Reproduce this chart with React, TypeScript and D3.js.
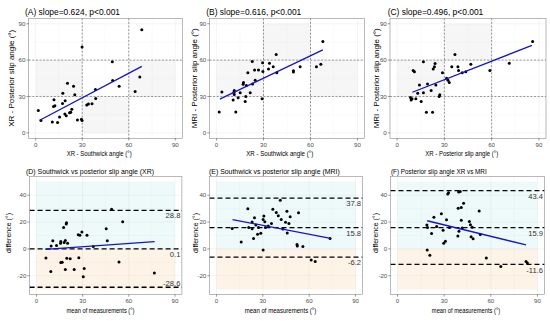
import React from 'react';
import * as d3 from 'd3';

type Pt = [number, number];

// ---------- top row: method comparison scatter plots ----------
const gradeBreaks = [0, 30, 60, 90];
const axisTicks = [0, 30, 60, 90];
const minorTicks = [15, 45, 75];

const scatterTitles = ['(A) slope=0.624, p<0.001', '(B) slope=0.616, p<0.001', '(C) slope=0.496, p<0.001'];
const scatterXLabels = ['XR - Southwick angle (°)', 'XR - Southwick angle (°)', 'XR - Posterior slip angle (°)'];
const scatterYLabels = ['XR - Posterior slip angle (°)', 'MRI - Posterior slip angle (°)', 'MRI - Posterior slip angle (°)'];

const pointsA: Pt[] = [
  [1.7, 18.5], [3.4, 10.1], [10.7, 9.0], [11.5, 21.8], [12.4, 22.4], [11.8, 27.3], [14.1, 8.5],
  [15.4, 13.1], [17.3, 24.3], [17.5, 32.7], [19.0, 26.5], [20.5, 40.9], [18.8, 15.5], [19.7, 14.2],
  [21.8, 16.6], [22.6, 16.9], [23.3, 19.4], [24.4, 38.5], [25.2, 31.4], [26.9, 10.6], [29.5, 11.2],
  [29.9, 10.1], [29.9, 70.9], [32.9, 22.9], [34.0, 23.7], [36.3, 24.0], [38.5, 35.7], [38.7, 28.4],
  [49.4, 58.6], [49.6, 43.1], [53.8, 38.5], [64.1, 34.1], [67.1, 46.1], [68.4, 85.1],
];
const pointsB: Pt[] = [
  [1.7, 17.2], [3.4, 33.8], [10.6, 27.0], [11.1, 33.5], [11.3, 34.9], [11.3, 31.6], [12.3, 17.2],
  [13.8, 28.9], [15.1, 33.0], [17.0, 40.1], [17.2, 41.5], [18.3, 25.9], [18.7, 30.0], [19.1, 39.0],
  [20.0, 49.6], [21.5, 33.0], [22.8, 58.9], [23.0, 40.4], [24.3, 51.8], [24.7, 43.4], [26.8, 51.8],
  [29.1, 28.1], [29.4, 57.8], [29.6, 50.7], [33.2, 52.6], [33.8, 57.5], [36.2, 54.5], [38.1, 64.6],
  [38.5, 49.6], [49.1, 51.3], [49.1, 50.2], [53.4, 54.5], [63.8, 54.5], [66.6, 56.5], [67.9, 75.3],
];
const pointsC: Pt[] = [
  [8.5, 29.2], [8.9, 27.0], [9.5, 28.1], [10.2, 51.5], [11.0, 50.4], [11.9, 28.1], [13.1, 32.7],
  [14.2, 39.5], [15.3, 25.9], [16.7, 33.0], [16.7, 58.6], [18.6, 16.9], [19.3, 40.4], [21.6, 34.9],
  [22.5, 16.9], [22.9, 52.6], [23.7, 54.5], [24.1, 57.3], [24.6, 39.5], [26.7, 30.0], [27.1, 31.4],
  [28.8, 49.6], [31.4, 45.0], [32.3, 43.4], [33.1, 41.5], [34.7, 54.5], [36.7, 64.6], [38.6, 54.5],
  [39.0, 51.5], [41.3, 49.6], [43.6, 50.4], [46.8, 56.5], [58.9, 51.5], [71.2, 57.5], [86.0, 75.3],
];

// fitted lines as drawn: [start, end]
const fitA: Pt[] = [[2.6, 10.4], [68.4, 54.8]];
const fitB: Pt[] = [[2.1, 27.8], [67.9, 68.5]];
const fitC: Pt[] = [[9.7, 33.5], [85.6, 72.2]];

// grade cells shaded grey: [x grade, y grade]
const shadeA = [[0, 1], [1, 0], [2, 1]];
const shadeB = [[0, 1], [1, 2], [2, 1]];
const shadeC = [[0, 1], [1, 2]];

// ---------- bottom row: Bland-Altman plots ----------
const baTitles = [
  '(D) Southwick vs posterior slip angle (XR)',
  '(E) Southwick vs posterior slip angle (MRI)',
  '(F) Posterior slip angle XR vs MRI',
];
const baXLabel = 'mean of measurements (°)';
const baYLabel = 'difference (°)';
const baYTicks = [-20, 0, 20, 40];
const baYMinor = [-30, -10, 10, 30, 50];
const baBands = [[0, 50], [-30, 0]]; // above / below zero

const pointsD: Pt[] = [
  [6.1, -6.8], [9.3, -16.8], [9.5, 2.1], [10.6, 6.0], [13.0, 2.6], [15.6, 4.3], [15.8, 5.5],
  [15.8, -10.2], [16.7, -9.9], [17.6, 16.0], [18.0, 4.8], [18.7, 6.2], [19.3, 18.5], [19.5, 19.5],
  [18.7, -15.3], [19.7, -7.0], [20.2, 4.3], [21.9, -7.3], [24.5, -15.3], [27.1, 10.6], [27.5, -6.5],
  [28.2, 10.1], [29.5, 12.6], [30.4, -20.7], [31.0, -14.6], [32.8, 10.1], [36.9, 1.8], [45.3, 15.0],
  [46.0, 6.0], [48.8, 29.5], [53.6, -9.7], [56.0, 20.2], [76.6, -18.0],
];
const pointsE: Pt[] = [
  [10.2, 15.2], [16.0, 5.1], [20.3, 30.0], [20.9, 16.0], [23.1, 20.1], [23.1, 15.1], [24.0, 7.8],
  [24.6, 23.3], [25.5, 17.9], [26.6, 11.0], [27.2, 16.0], [28.7, 11.6], [30.2, 22.0], [30.7, 24.5],
  [30.2, -0.9], [31.3, 20.3], [31.7, 16.0], [33.5, 17.0], [35.6, 18.9], [36.5, 29.6], [38.7, 27.1],
  [40.0, 24.7], [41.3, 36.3], [41.9, 22.0], [43.0, 14.8], [44.7, 19.9], [45.6, 28.1], [45.8, 11.9],
  [46.9, 18.9], [47.7, 24.0], [52.1, 3.2], [52.3, 2.2], [53.1, 26.9], [55.9, 1.8], [61.3, -8.2],
  [63.9, -9.4], [73.5, 7.8],
];
const pointsF: Pt[] = [
  [18.9, 17.8], [19.1, -0.9], [19.3, 15.9], [20.8, -4.8], [21.9, 11.5], [23.4, 23.6], [25.2, 16.8],
  [28.2, 26.3], [29.3, 13.9], [29.7, 4.2], [30.8, 5.7], [31.5, 21.7], [32.3, 40.9], [32.8, 41.9],
  [33.4, 15.9], [38.8, 9.6], [39.0, 30.3], [39.3, 42.4], [39.5, 13.2], [40.3, 42.9], [41.0, 30.8],
  [41.0, 21.4], [41.6, 15.6], [42.5, 34.0], [46.2, 20.5], [46.9, 18.0], [47.3, 9.0], [48.0, 16.1],
  [48.6, 7.6], [52.5, 28.3], [53.2, 10.8], [57.1, -6.7], [66.4, -13.1], [82.6, -9.4], [83.5, -10.6],
];

const limitsD = [28.8, 0.1, -28.6];
const limitsE = [37.8, 15.8, -6.2];
const limitsF = [43.4, 15.9, -11.6];

const fitD: Pt[] = [[5.8, -0.3], [76.8, 5.4]];
const fitE: Pt[] = [[10.4, 21.9], [73.8, 7.9]];
const fitF: Pt[] = [[19.1, 21.0], [82.6, 3.0]];

// ---------- layout ----------
type Box = { x0: number; x1: number; y0: number; y1: number };
const topBoxes: Box[] = [
  { x0: 28.7, x1: 182.3, y0: 18.3, y1: 138.3 },
  { x0: 209.5, x1: 364.5, y0: 18.3, y1: 138.3 },
  { x0: 390, x1: 546, y0: 18.3, y1: 138.3 },
];
const botBoxes: Box[] = [
  { x0: 29.6, x1: 181.9, y0: 176.5, y1: 294.5 },
  { x0: 209.5, x1: 362.5, y0: 176.5, y1: 294.5 },
  { x0: 390.5, x1: 544.5, y0: 176.5, y1: 294.5 },
];
const topTitlePos = [[25, 95], [206.3, 95], [387.7, 95.6]];
const topXLabelPos = [[99.2, 65], [279.7, 67], [461.7, 73]];
const topYLabelPos = [[11.7, 97], [194.7, 100], [376.7, 100]];
const botTitlePos = [[26, 128], [209, 130.7], [391, 95.7]];
const botXLabelPos = [[100.5, 68], [280.5, 71.6], [466, 68.3]];
const botYLabelX = [8.5, 195.5, 376];

const FONT = '"Liberation Sans", Arial, Helvetica, sans-serif';
const BLUE = '#1414cc';

const Axes = ({ box, x, y, xt, yt }: any) => (
  <g>
    {xt.map((t: number) => (
      <g key={'xt' + t}>
        <line x1={x(t)} x2={x(t)} y1={box.y1} y2={box.y1 + 2.2} stroke="#333" strokeWidth={0.5} />
        <text x={x(t)} y={box.y1 + 8.8} textAnchor="middle" fontSize={6.1} fill="#4d4d4d">{t}</text>
      </g>
    ))}
    {yt.map((t: number) => (
      <g key={'yt' + t}>
        <line x1={box.x0 - 2.2} x2={box.x0} y1={y(t)} y2={y(t)} stroke="#333" strokeWidth={0.5} />
        <text x={box.x0 - 3.3} y={y(t)} dy="0.35em" textAnchor="end" fontSize={6.1} fill="#4d4d4d">{t}</text>
      </g>
    ))}
  </g>
);

const Grid = ({ box, x, y, xMaj, xMin, yMaj, yMin }: any) => (
  <g>
    {xMin.map((t: number) => <line key={'xm' + t} x1={x(t)} x2={x(t)} y1={box.y0} y2={box.y1} stroke="#f4f4f4" strokeWidth={0.35} />)}
    {yMin.map((t: number) => <line key={'ym' + t} x1={box.x0} x2={box.x1} y1={y(t)} y2={y(t)} stroke="#f4f4f4" strokeWidth={0.35} />)}
    {xMaj.map((t: number) => <line key={'xM' + t} x1={x(t)} x2={x(t)} y1={box.y0} y2={box.y1} stroke="#ebebeb" strokeWidth={0.5} />)}
    {yMaj.map((t: number) => <line key={'yM' + t} x1={box.x0} x2={box.x1} y1={y(t)} y2={y(t)} stroke="#ebebeb" strokeWidth={0.5} />)}
  </g>
);

function ScatterPanel({ i, pts, fit, shade }: { i: number; pts: Pt[]; fit: Pt[]; shade: number[][] }) {
  const box = topBoxes[i];
  const x = d3.scaleLinear().domain([-4.5, 94.5]).range([box.x0, box.x1]);
  const y = d3.scaleLinear().domain([-4.5, 94.5]).range([box.y1, box.y0]);
  const line = d3.line<Pt>().x(d => x(d[0])).y(d => y(d[1]));
  return (
    <g>
      <rect x={box.x0} y={box.y0} width={box.x1 - box.x0} height={box.y1 - box.y0} fill="#fff" />
      <Grid box={box} x={x} y={y} xMaj={axisTicks} xMin={minorTicks} yMaj={axisTicks} yMin={minorTicks} />
      {shade.map(([cx, cy]) => (
        <rect key={cx + '-' + cy}
          x={x(gradeBreaks[cx])} width={x(gradeBreaks[cx + 1]) - x(gradeBreaks[cx])}
          y={y(gradeBreaks[cy + 1])} height={y(gradeBreaks[cy]) - y(gradeBreaks[cy + 1])}
          fill="#000" fillOpacity={0.035} />
      ))}
      {[30, 60].map(v => (
        <g key={'d' + v}>
          <line x1={x(v)} x2={x(v)} y1={box.y0} y2={box.y1} stroke="#555" strokeWidth={0.6} strokeDasharray="2,1.6" />
          <line x1={box.x0} x2={box.x1} y1={y(v)} y2={y(v)} stroke="#555" strokeWidth={0.6} strokeDasharray="2,1.6" />
        </g>
      ))}
      {pts.map((d, k) => <circle key={k} cx={x(d[0])} cy={y(d[1])} r={1.5} fill="#000" />)}
      <path d={line(fit) || ''} stroke={BLUE} strokeWidth={1.3} fill="none" />
      <rect x={box.x0} y={box.y0} width={box.x1 - box.x0} height={box.y1 - box.y0} fill="none" stroke="#8a8a8a" strokeWidth={0.6} />
      <Axes box={box} x={x} y={y} xt={axisTicks} yt={axisTicks} />
      <text x={topTitlePos[i][0]} y={14.8} fontSize={9} textLength={topTitlePos[i][1]} lengthAdjust="spacingAndGlyphs">{scatterTitles[i]}</text>
      <text x={topXLabelPos[i][0]} y={156.3} fontSize={6.8} textAnchor="middle" textLength={topXLabelPos[i][1]} lengthAdjust="spacingAndGlyphs">{scatterXLabels[i]}</text>
      <text transform={`translate(${topYLabelPos[i][0] + 2.4},78.3) rotate(-90)`} fontSize={6.8} textAnchor="middle" textLength={topYLabelPos[i][1]} lengthAdjust="spacingAndGlyphs">{scatterYLabels[i]}</text>
    </g>
  );
}

function BAPanel({ i, pts, fit, limits }: { i: number; pts: Pt[]; fit: Pt[]; limits: number[] }) {
  const box = botBoxes[i];
  const x = d3.scaleLinear().domain([-4.5, 94.5]).range([box.x0, box.x1]);
  const y = d3.scaleLinear().domain([-34, 54]).range([box.y1, box.y0]);
  const line = d3.line<Pt>().x(d => x(d[0])).y(d => y(d[1]));
  const bandColors = ['#48b8b8', '#f0a030'];
  const bandOpacity = [0.09, 0.12];
  return (
    <g>
      <rect x={box.x0} y={box.y0} width={box.x1 - box.x0} height={box.y1 - box.y0} fill="#fff" />
      <Grid box={box} x={x} y={y} xMaj={axisTicks} xMin={minorTicks} yMaj={baYTicks} yMin={baYMinor} />
      {baBands.map((b, k) => (
        <rect key={'b' + k} x={x(0)} width={x(90) - x(0)} y={y(b[1])} height={y(b[0]) - y(b[1])}
          fill={bandColors[k]} fillOpacity={bandOpacity[k]} />
      ))}
      {limits.map((v, k) => (
        <line key={'l' + k} x1={box.x0} x2={box.x1} y1={y(v)} y2={y(v)} stroke="#000" strokeWidth={1.3} strokeDasharray="5,3" />
      ))}
      {pts.map((d, k) => <circle key={k} cx={x(d[0])} cy={y(d[1])} r={1.5} fill="#000" />)}
      <path d={line(fit) || ''} stroke={BLUE} strokeWidth={1.3} fill="none" />
      {limits.map((v, k) => {
        const above = i === 0 && k === 2;
        return (
          <text key={'t' + k} x={box.x1 - 1.5} y={y(v) + (above ? -4 : 5.5)} dy="0.35em" textAnchor="end" fontSize={7.6} fill="#333">{v}</text>
        );
      })}
      <rect x={box.x0} y={box.y0} width={box.x1 - box.x0} height={box.y1 - box.y0} fill="none" stroke="#8a8a8a" strokeWidth={0.6} />
      <Axes box={box} x={x} y={y} xt={axisTicks} yt={baYTicks} />
      <text x={botTitlePos[i][0]} y={173.6} fontSize={7.6} textLength={botTitlePos[i][1]} lengthAdjust="spacingAndGlyphs">{baTitles[i]}</text>
      <text x={botXLabelPos[i][0]} y={313} fontSize={6.6} textAnchor="middle" textLength={botXLabelPos[i][1]} lengthAdjust="spacingAndGlyphs">{baXLabel}</text>
      <text transform={`translate(${botYLabelX[i] + 2.3},233) rotate(-90)`} fontSize={6.6} textAnchor="middle" textLength={40} lengthAdjust="spacingAndGlyphs">{baYLabel}</text>
    </g>
  );
}

export default function App() {
  return (
    <svg width={550} height={321} viewBox="0 0 550 321"
      style={{ position: 'absolute', left: 0, top: 0, background: '#fff', fontFamily: FONT }}>
      <rect width={550} height={321} fill="#fff" />
      <ScatterPanel i={0} pts={pointsA} fit={fitA} shade={shadeA} />
      <ScatterPanel i={1} pts={pointsB} fit={fitB} shade={shadeB} />
      <ScatterPanel i={2} pts={pointsC} fit={fitC} shade={shadeC} />
      <BAPanel i={0} pts={pointsD} fit={fitD} limits={limitsD} />
      <BAPanel i={1} pts={pointsE} fit={fitE} limits={limitsE} />
      <BAPanel i={2} pts={pointsF} fit={fitF} limits={limitsF} />
    </svg>
  );
}
